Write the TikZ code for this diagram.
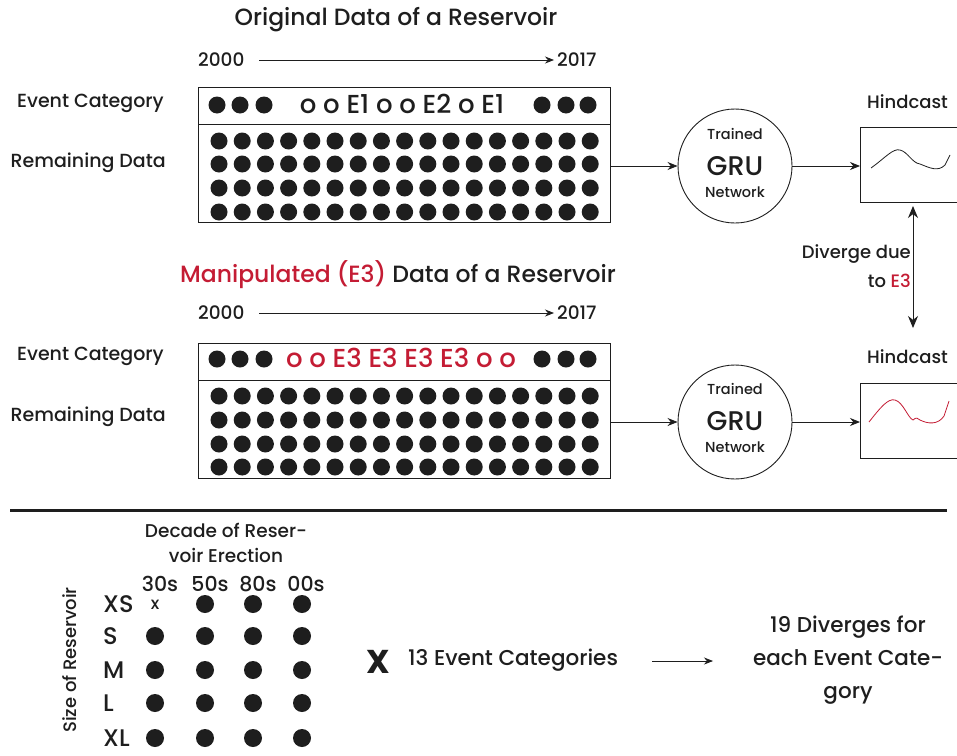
\documentclass[tikz,border=0pt]{standalone}
\usepackage{fontspec}
\setmainfont{Poppins Medium}[BoldFont={Poppins Bold}]
\usetikzlibrary{arrows.meta}
\definecolor{ink}{HTML}{1E1E1E}
\definecolor{accent}{RGB}{196,28,52}
\tikzset{
  every node/.style={text=ink, inner sep=0pt},
  title/.style={font=\fontsize{23.5}{28}\selectfont},
  lbl/.style={font=\fontsize{18}{22}\selectfont},
  sidelbl/.style={font=\fontsize{19}{22}\selectfont, anchor=east},
  year/.style={font=\fontsize{18.5}{22}\selectfont},
  evtxt/.style={font=\fontsize{26}{30}\selectfont},
  databox/.style={draw=ink, line width=1pt, minimum width=412pt, minimum height=135pt, anchor=north west},
  gru/.style={draw=ink, line width=0.9pt, circle, minimum size=114pt},
  smalltxt/.style={font=\fontsize{14.5}{17}\selectfont},
  bigtxt/.style={font=\fontsize{27}{30}\selectfont},
  hcbox/.style={draw=ink, line width=1pt, minimum width=120pt, minimum height=75pt, anchor=north west},
  arr/.style={draw=ink, line width=0.9pt, -{Stealth[length=10pt,width=8pt]}},
  dblarr/.style={draw=ink, line width=0.9pt, {Stealth[length=12pt,width=10pt]}-{Stealth[length=12pt,width=10pt]}},
  thinarr/.style={draw=ink, line width=0.8pt, -{Stealth[length=9pt,width=7pt]}},
  grid/.style={font=\fontsize{20.5}{24}\selectfont},
  rowlbl/.style={font=\fontsize{24}{27}\selectfont, anchor=west},
}
\begin{document}
\begin{tikzpicture}[x=1pt,y=-1pt]
\clip (0,0) rectangle (957,755);
\fill[white] (0,0) rectangle (957,755);

% ---------- original data ----------
\node[title] (t1) at (396,20) {Original Data of a Reservoir};
\node[year, anchor=west] (y1a) at (198,60) {2000};
\node[year, anchor=west] (y1b) at (557,60) {2017};
\draw[thinarr] (259,60) coordinate (s1) -- (y1b.west -| 554,0);

\node[sidelbl] (ec1) at (164,103) {Event Category};
\node[sidelbl] (rd1) at (166,163) {Remaining Data};

\node[databox] (box1) at (198,87) {};
\draw[ink, line width=1pt] (198,124) -- (610,124);
\foreach \x in {217,240,264,542,566,588} \fill[ink] (\x,105) circle[radius=8.5pt];
\node[evtxt] (ev1) at (402,104) {o o E1 o o E2 o E1};
\foreach \r in {141,164,188,212}
  \foreach \c in {0,...,16}
    \fill[ink] (219+23.2*\c,\r) circle[radius=8.5pt];

\node[gru] (gru1) at (735,166) {};
\node[smalltxt] at (735,134) {Trained};
\node[bigtxt] at (735,166) {GRU};
\node[smalltxt] at (735,192) {Network};

\node[hcbox] (hc1) at (860,127) {};
\node[lbl, anchor=west] (hl1) at (867,102) {Hindcast};
\draw[ink, line width=0.8pt] (871,168) .. controls (885,158) and (893,148) .. (900,150)
  .. controls (908,152) and (912,163) .. (920,164)
  .. controls (930,168) and (938,172) .. (945,165) -- (950,155);

\draw[arr] (box1.east |- gru1) -- (gru1.west);
\draw[arr] (gru1.east) -- (gru1.east -| hc1.west);

% ---------- manipulated data ----------
\node[title] (t2) at (398,275) {\textcolor{accent}{Manipulated (E3)} Data of a Reservoir};
\node[year, anchor=west] (y2a) at (198,313) {2000};
\node[year, anchor=west] (y2b) at (557,313) {2017};
\draw[thinarr] (259,313) -- (y2b.west -| 554,0);

\node[sidelbl] (ec2) at (164,356) {Event Category};
\node[sidelbl] (rd2) at (166,417) {Remaining Data};

\node[databox] (box2) at (198,343) {};
\draw[ink, line width=1pt] (198,380) -- (610,380);
\foreach \x in {217,240,264,542,566,588} \fill[ink] (\x,359) circle[radius=8.5pt];
\node[evtxt, text=accent] (ev2) at (401,358) {o o E3 E3 E3 E3 o o};
\foreach \r in {396,420,444,467}
  \foreach \c in {0,...,16}
    \fill[ink] (219+23.2*\c,\r) circle[radius=8.5pt];

\node[gru] (gru2) at (735,422) {};
\node[smalltxt] at (735,389) {Trained};
\node[bigtxt] at (735,421) {GRU};
\node[smalltxt] at (735,447) {Network};

\node[hcbox] (hc2) at (860,383) {};
\node[lbl, anchor=west] (hl2) at (867,357) {Hindcast};
\draw[accent, line width=0.8pt] (869,422) .. controls (880,408) and (888,398) .. (895,400)
  .. controls (903,402) and (908,418) .. (913,420)
  .. controls (916,417) and (918,418) .. (920,420)
  .. controls (928,424) and (938,425) .. (944,416) -- (949,401);

\draw[arr] (box2.east |- gru2) -- (gru2.west);
\draw[arr] (gru2.east) -- (gru2.east -| hc2.west);

% divergence between hindcasts
\coordinate (dvtop) at (913,206);
\coordinate (dvbot) at (913,328);
\draw[dblarr] (dvtop) -- (dvbot);
\node[lbl, anchor=east] (dv1) at (911,254) {Diverge due};
\node[lbl, anchor=east] (dv2) at (911,281) {to \textcolor{accent}{E3}};

% ---------- separator ----------
\draw[ink, line width=3pt] (10,510) -- (947,510);

% ---------- experiment grid ----------
\node[align=center, font=\fontsize{18.5}{25}\selectfont] (dec) at (226,543) {Decade of Reser-\\voir Erection};
\foreach \lab/\x in {30s/160,50s/210,80s/258,00s/306}
  \node[grid] at (\x,584) {\lab};
\node[lbl, rotate=90] (size) at (70,660) {Size of Reservoir};
\foreach \lab/\y in {XS/604,S/636,M/670,L/703,XL/738}
  \node[rowlbl] at (103,\y) {\lab};
\node[font=\fontsize{17}{19}\selectfont] at (155,605) {x};
\foreach \y in {636,670,703,738} \fill[ink] (155,\y) circle[radius=9pt];
\foreach \x in {205,253,302}
  \foreach \y in {604,636,670,703,738}
    \fill[ink] (\x,\y) circle[radius=9pt];

\node[font=\bfseries\fontsize{33}{35}\selectfont] (times) at (378,662) {X};
\node[font=\fontsize{21.5}{26}\selectfont, anchor=west] (ecats) at (408,660) {13 Event Categories};
\node[align=center, font=\fontsize{21.5}{33}\selectfont] (res) at (848,660) {19 Diverges for\\each Event Cate-\\gory};
\coordinate (ea) at (652,661);
\coordinate (eb) at (713,661);
\draw[thinarr] (ea) -- (eb);
\end{tikzpicture}
\end{document}
